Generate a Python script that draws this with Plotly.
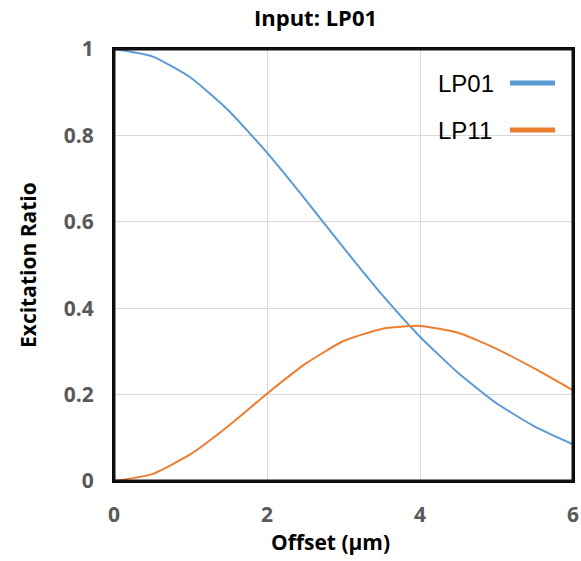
import plotly.graph_objects as go

offset = [0, 0.5, 1, 1.5, 2, 2.5, 3, 3.5, 4, 4.5, 5, 5.5, 6]
lp01 = [1.0, 0.983, 0.934, 0.857, 0.760, 0.652, 0.540, 0.432, 0.334, 0.250, 0.180, 0.126, 0.085]
lp11 = [0.0, 0.016, 0.062, 0.128, 0.202, 0.271, 0.324, 0.352, 0.359, 0.343, 0.306, 0.260, 0.210]
series_names = ["LP01", "LP11"]
colors = ["#5B9BD5", "#ED7D31"]
ytick_vals = [0, 0.2, 0.4, 0.6, 0.8, 1]
ytick_text = ["0", "0.2", "0.4", "0.6", "0.8", "1"]
xtick_vals = [0, 2, 4, 6]

L, R, T, B = 114, 8, 49, 80
W, H = 581, 561
PW, PH = W - L - R, H - T - B


def px(x):
    return (x - L) / PW


def py(y):
    return (H - B - y) / PH


fig = go.Figure()
for name, ys, c in zip(series_names, [lp01, lp11], colors):
    fig.add_trace(go.Scatter(x=offset, y=ys, mode="lines", name=name,
                             line=dict(color=c, width=2, shape="spline", smoothing=0.5),
                             showlegend=False))

tickfont = dict(family="Open Sans", size=21, color="#595959", weight="bold")
axis_common = dict(showgrid=True, gridcolor="#D9D9D9", gridwidth=1, zeroline=False,
                   showline=True, mirror=True, linecolor="#000000", linewidth=2,
                   automargin=False, tickfont=tickfont, ticks="")
fig.update_layout(
    template="none",
    width=W, height=H,
    margin=dict(l=L, r=R, t=T, b=B),
    plot_bgcolor="white", paper_bgcolor="white",
    showlegend=False,
    xaxis=dict(range=[0, 6], tickvals=xtick_vals, ticklabelstandoff=14, **axis_common),
    yaxis=dict(range=[0, 1], tickvals=ytick_vals, ticktext=ytick_text,
               ticklabelstandoff=14, **axis_common),
)

fig.add_shape(type="rect", xref="paper", yref="paper", x0=0, x1=1, y0=0, y1=1,
              line=dict(color="#111111", width=3), fillcolor="rgba(0,0,0,0)", layer="above")

ann = [
    dict(text="<b>Input: LP01</b>", x=px(315), y=py(17),
         font=dict(family="Open Sans", size=22, color="black")),
    dict(text="<b>Offset (µm)</b>", x=px(330), y=py(542),
         font=dict(family="Open Sans", size=21, color="black")),
    dict(text="<b>Excitation Ratio</b>", x=px(28), y=py(265), textangle=-90,
         font=dict(family="Open Sans", size=21, color="black")),
]
for i, (name, c) in enumerate(zip(series_names, colors)):
    yc = 83 + i * 47
    ann.append(dict(text=name, x=px(436), y=py(yc), xanchor="left",
                    font=dict(family="Liberation Sans", size=24, color="black")))
    fig.add_shape(type="line", xref="paper", yref="paper",
                  x0=px(510), x1=px(555), y0=py(yc), y1=py(yc),
                  line=dict(color=c, width=5))
for a in ann:
    a.setdefault("xanchor", "center")
    a.update(xref="paper", yref="paper", yanchor="middle", showarrow=False)
fig.update_layout(annotations=ann)
fig.write_html("out.html")
